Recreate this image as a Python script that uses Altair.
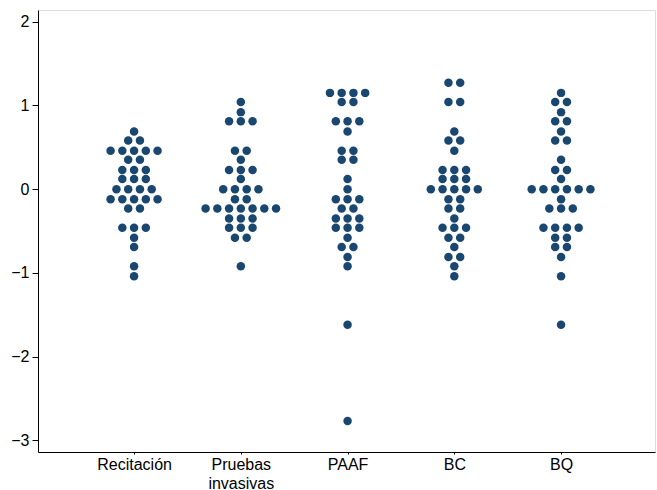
import altair as alt
import pandas as pd

categories = ["Recitación", "Pruebas\ninvasivas", "PAAF", "BC", "BQ"]

recitacion = [(0.69, 1), (0.58, 2), (0.46, 5), (0.35, 2), (0.23, 3), (0.12, 3),
              (0.0, 4), (-0.12, 5), (-0.23, 2), (-0.46, 3), (-0.58, 1),
              (-0.69, 1), (-0.92, 1), (-1.04, 1)]
pruebas = [(1.04, 1), (0.92, 1), (0.81, 3), (0.46, 2), (0.35, 1), (0.23, 3),
           (0.12, 1), (0.0, 4), (-0.12, 2), (-0.23, 7), (-0.35, 3), (-0.46, 3),
           (-0.58, 2), (-0.92, 1)]
paaf = [(1.15, 4), (1.04, 2), (0.81, 3), (0.69, 1), (0.46, 2), (0.35, 2),
        (0.12, 1), (0.0, 1), (-0.12, 3), (-0.23, 2), (-0.35, 3), (-0.46, 3),
        (-0.58, 1), (-0.69, 2), (-0.81, 1), (-0.92, 1), (-1.62, 1), (-2.77, 1)]
bc = [(1.27, 2), (1.04, 2), (0.69, 1), (0.58, 2), (0.46, 1), (0.23, 3),
      (0.12, 3), (0.0, 5), (-0.12, 2), (-0.23, 2), (-0.35, 1), (-0.46, 3),
      (-0.58, 2), (-0.69, 1), (-0.81, 2), (-0.92, 1), (-1.04, 1)]
bq = [(1.15, 1), (1.04, 2), (0.92, 1), (0.81, 2), (0.69, 1), (0.58, 2),
      (0.35, 1), (0.23, 2), (0.12, 1), (0.0, 6), (-0.12, 1), (-0.23, 3),
      (-0.46, 4), (-0.58, 2), (-0.69, 2), (-0.81, 1), (-1.04, 1), (-1.62, 1)]

series = [recitacion, pruebas, paaf, bc, bq]

rows = []
for pos, (cat, s) in enumerate(zip(categories, series), start=1):
    for v, n in s:
        for _ in range(n):
            rows.append({"cat": cat, "pos": pos, "value": v})
df = pd.DataFrame(rows)

label_expr = ("datum.value == 1 ? 'Recitación' : datum.value == 2 ? ['Pruebas', 'invasivas'] : "
              "datum.value == 3 ? 'PAAF' : datum.value == 4 ? 'BC' : 'BQ'")

FONT = "Liberation Sans"

chart = alt.Chart(df).transform_window(
    idx="row_number()", groupby=["cat", "value"]
).transform_joinaggregate(
    n="count()", groupby=["cat", "value"]
).transform_calculate(
    xpos="datum.pos + (datum.idx - (datum.n + 1) / 2) * 0.110"
).mark_circle(size=72, opacity=1, color="#1a476f").encode(
    x=alt.X("xpos:Q", scale=alt.Scale(domain=[0.1, 5.88], nice=False, zero=False),
            axis=alt.Axis(values=[1, 2, 3, 4, 5], labelExpr=label_expr, title=None,
                          grid=False, tickSize=2, labelPadding=2, labelFontSize=16,
                          labelFont=FONT, labelColor="#000", domainColor="#000",
                          tickColor="#000", labelLineHeight=19)),
    y=alt.Y("value:Q", scale=alt.Scale(domain=[-3.14, 2.14], nice=False, zero=False),
            axis=alt.Axis(values=[-3, -2, -1, 0, 1, 2], title=None, grid=False,
                          tickSize=6, labelPadding=3, labelFontSize=16, labelFont=FONT,
                          labelColor="#000", domainColor="#000", tickColor="#000")),
).properties(
    width=617, height=442,
    autosize=alt.AutoSizeParams(type="none"),
    padding={"left": 38, "top": 10, "right": 2, "bottom": 38},
).configure_view(stroke=None).configure(background="white")

chart.save("out.html", embed_options={"renderer": "svg", "actions": False})
